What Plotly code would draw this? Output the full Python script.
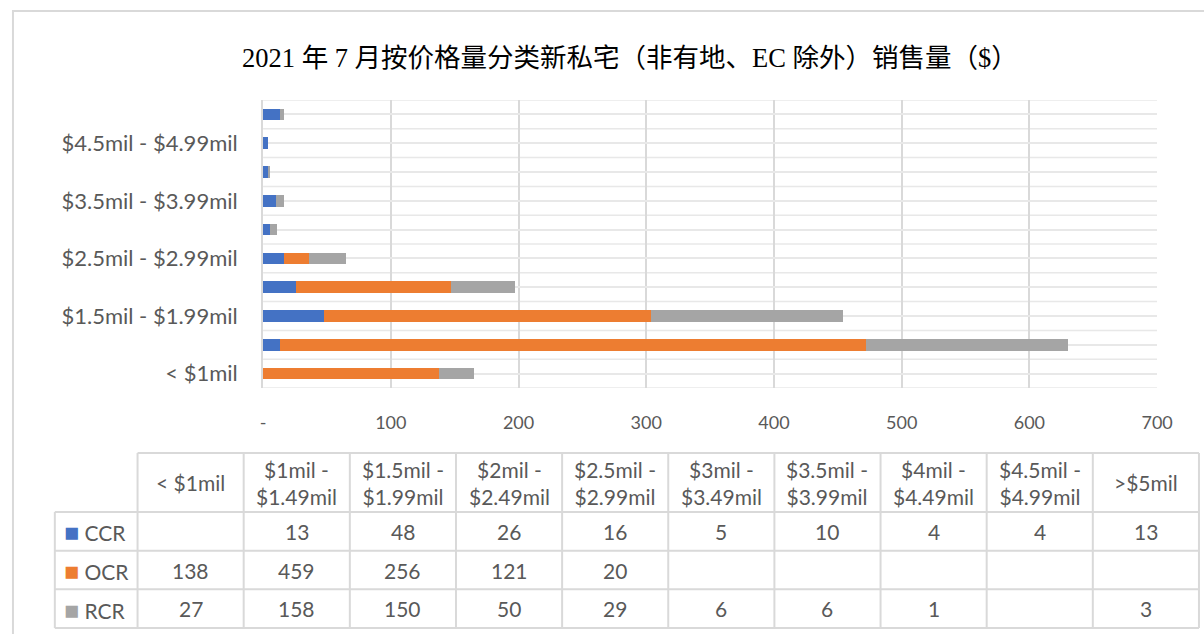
import plotly.graph_objects as go

categories = ["< $1mil", "$1mil - $1.49mil", "$1.5mil - $1.99mil", "$2mil - $2.49mil",
              "$2.5mil - $2.99mil", "$3mil - $3.49mil", "$3.5mil - $3.99mil",
              "$4mil - $4.49mil", "$4.5mil - $4.99mil", ">$5mil"]
table_headers = ["< $1mil", "$1mil -<br>$1.49mil", "$1.5mil -<br>$1.99mil", "$2mil -<br>$2.49mil",
                 "$2.5mil -<br>$2.99mil", "$3mil -<br>$3.49mil", "$3.5mil -<br>$3.99mil",
                 "$4mil -<br>$4.49mil", "$4.5mil -<br>$4.99mil", ">$5mil"]
ccr = [None, 13, 48, 26, 16, 5, 10, 4, 4, 13]
ocr = [138, 459, 256, 121, 20, None, None, None, None, None]
rcr = [27, 158, 150, 50, 29, 6, 6, 1, None, 3]
series_names = ["CCR", "OCR", "RCR"]
colors = ["#4472C4", "#ED7D31", "#A5A5A5"]
x_ticks = [0, 100, 200, 300, 400, 500, 600, 700]
x_ticktext = ["-", "100", "200", "300", "400", "500", "600", "700"]
title = "2021 年 7 月按价格量分类新私宅（非有地、EC 除外）销售量（$）"

W, H = 1204, 634
W_EFF = 1189  # observed rendered paper width
def px_x(p): return p / W_EFF
def px_y(p): return 1 - p / H

TXT = "#595959"
FONT = "Lato, 'Open Sans', sans-serif"
GRID = "#D9D9D9"

fig = go.Figure()
for name, vals, col in zip(series_names, [ccr, ocr, rcr], colors):
    fig.add_trace(go.Bar(
        y=categories, x=vals, name=name, orientation="h",
        marker=dict(color=col, line=dict(width=0)), width=0.4,
        showlegend=False, hoverinfo="x+y+name"))

shapes = []
annotations = []
# boundary gridlines between categories
for i in range(len(categories) + 1):
    shapes.append(dict(type="line", xref="x", yref="y", x0=0, x1=700,
                       y0=i - 0.5, y1=i - 0.5, layer="below",
                       line=dict(color="#E8E8E8", width=1.5)))
# outer chart border
shapes.append(dict(type="rect", xref="paper", yref="paper",
                   x0=px_x(10), x1=px_x(1300), y0=px_y(700), y1=px_y(11),
                   line=dict(color=GRID, width=2), layer="below"))

# ---- data table (drawn as grid + text) ----
def fmt(v):
    return "" if v is None else str(v)

t_left, t_right, leg_left = 135, 1200, 52
row_edges = [453, 512, 550.7, 589.3, 628]
ncol = len(categories)
cw = (t_right - t_left) / ncol
line = dict(color=GRID, width=2)
shapes.append(dict(type="line", xref="paper", yref="paper", x0=px_x(t_left), x1=px_x(t_right),
                   y0=px_y(row_edges[0]), y1=px_y(row_edges[0]), line=line))
for ry in row_edges[1:]:
    shapes.append(dict(type="line", xref="paper", yref="paper", x0=px_x(leg_left), x1=px_x(t_right),
                       y0=px_y(ry), y1=px_y(ry), line=line))
shapes.append(dict(type="line", xref="paper", yref="paper", x0=px_x(leg_left), x1=px_x(leg_left),
                   y0=px_y(row_edges[1]), y1=px_y(row_edges[-1]), line=line))
for j in range(ncol + 1):
    xx = t_left + j * cw
    shapes.append(dict(type="line", xref="paper", yref="paper", x0=px_x(xx), x1=px_x(xx),
                       y0=px_y(row_edges[0]), y1=px_y(row_edges[-1]), line=line))

tfont = dict(family=FONT, size=21, color=TXT)
for j, hdr in enumerate(table_headers):
    cx = t_left + (j + 0.5) * cw
    annotations.append(dict(text=hdr, xref="paper", yref="paper", x=px_x(cx),
                            y=px_y((row_edges[0] + row_edges[1]) / 2),
                            xanchor="center", yanchor="middle", showarrow=False, font=tfont))
    for r, vals in enumerate([ccr, ocr, rcr]):
        annotations.append(dict(text=fmt(vals[j]), xref="paper", yref="paper", x=px_x(cx),
                                y=px_y((row_edges[r + 1] + row_edges[r + 2]) / 2),
                                xanchor="center", yanchor="middle", showarrow=False, font=tfont))
for r, (n, c) in enumerate(zip(series_names, colors)):
    annotations.append(dict(text=f'<span style="color:{c};font-size:25px">■</span> {n}',
                            xref="paper", yref="paper", x=px_x(59),
                            y=px_y((row_edges[r + 1] + row_edges[r + 2]) / 2),
                            xanchor="left", yanchor="middle", showarrow=False, font=tfont))

annotations.append(dict(text=title, xref="paper", yref="paper",
                        x=px_x(629), y=px_y(58), xanchor="center", yanchor="middle",
                        showarrow=False,
                        font=dict(family="'Liberation Serif', 'Noto Sans CJK SC', serif",
                                  size=26.5, color="#000000")))

fig.update_layout(
    width=W, height=H, autosize=False, margin=dict(l=0, r=0, t=0, b=0),
    paper_bgcolor="white", plot_bgcolor="white",
    barmode="stack",
    shapes=shapes, annotations=annotations,
    font=dict(family=FONT, color=TXT, size=18),
    xaxis=dict(domain=[px_x(261), px_x(1158)], range=[0, 700],
               tickvals=x_ticks, ticktext=x_ticktext,
               showgrid=True, gridcolor=GRID, gridwidth=2,
               zeroline=False, showline=False, ticks="",
               ticklabelstandoff=22, tickfont=dict(size=18, color=TXT),
               fixedrange=True),
    yaxis=dict(domain=[px_y(388), px_y(100)], type="category",
               categoryorder="array", categoryarray=categories,
               range=[-0.5, len(categories) - 0.5],
               tickvals=categories,
               ticktext=[c if i % 2 == 0 else "" for i, c in enumerate(categories)],
               showgrid=True, gridcolor="#E8E8E8", gridwidth=1.5,
               showline=True, linecolor=GRID, linewidth=2,
               ticks="", ticklabelstandoff=19,
               tickfont=dict(size=22, color=TXT), fixedrange=True),
)

fig.write_html("out.html", config={"responsive": False},
               post_script="document.body.style.margin='0';"
                           "document.body.style.overflow='hidden';"
                           "document.documentElement.style.overflow='hidden';")
